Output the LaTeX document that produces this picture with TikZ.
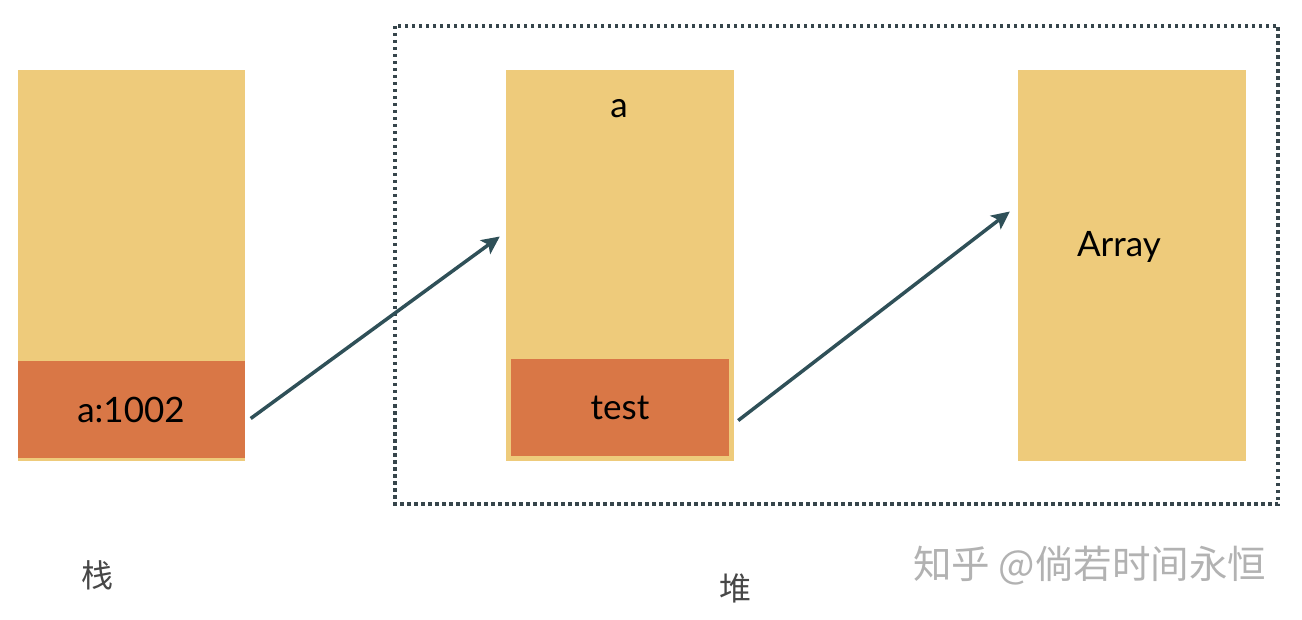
\documentclass[tikz,border=0pt]{standalone}
\usepackage{fontspec}
\setmainfont{Lato}
\newfontfamily\cjk{Noto Sans CJK SC}
\usetikzlibrary{arrows.meta}
\definecolor{cellyellow}{HTML}{EECB7B}
\definecolor{slotorange}{HTML}{D97746}
\definecolor{linkgray}{HTML}{2F5058}
\definecolor{framegray}{HTML}{36454B}
\tikzset{
  cell/.style={fill=cellyellow, inner sep=0, minimum width=227, minimum height=391},
  slot/.style={fill=slotorange, inner sep=0, font=\fontsize{35}{40}\selectfont},
  word/.style={inner sep=0, font=\fontsize{35}{40}\selectfont},
  pointer/.style={draw=linkgray, line width=3.5, -{Stealth[length=18, width=17, inset=4]}},
  area/.style={inner sep=0, text=black!72, font=\cjk\fontsize{32}{36}\selectfont}
}
\begin{document}
\begin{tikzpicture}[x=1pt, y=-1pt]
    \useasboundingbox (0,0) rectangle (1302,620);

    % stack
    \node[cell] (stack) at (131,265.5) {};
    \node[slot, minimum width=227, minimum height=97] (avar) at (131,409.5) {a:1002};

    % heap
    \node[cell, minimum width=228] (obj) at (620,265.5) {};
    \node[word] (objname) at (619,109) {a};
    \node[slot, minimum width=218, minimum height=97] (test) at (620,407.5) {test};
    \node[cell, minimum width=228] (arr) at (1132,265.5) {};
    \node[word] (arrname) at (1119,247) {Array};

    \draw[framegray, line width=3.5, dash pattern=on 3.5 off 3.5] (395,26) rectangle (1278,504);

    \draw[pointer] ([shift={(6,9)}]avar.east) -- ([shift={(-6,-29)}]obj.west);
    \draw[pointer] ([shift={(9,13)}]test.east) -- ([shift={(-8,-54)}]arr.west);

    \node[area] (stacklabel) at (97,575) {栈};
    \node[area] (heaplabel) at (735,588) {堆};
    \node[inner sep=0, text=black!30, font=\cjk\fontsize{38.5}{42}\selectfont, anchor=west] (mark) at (913,566) {知乎 @倘若时间永恒};
\end{tikzpicture}
\end{document}
